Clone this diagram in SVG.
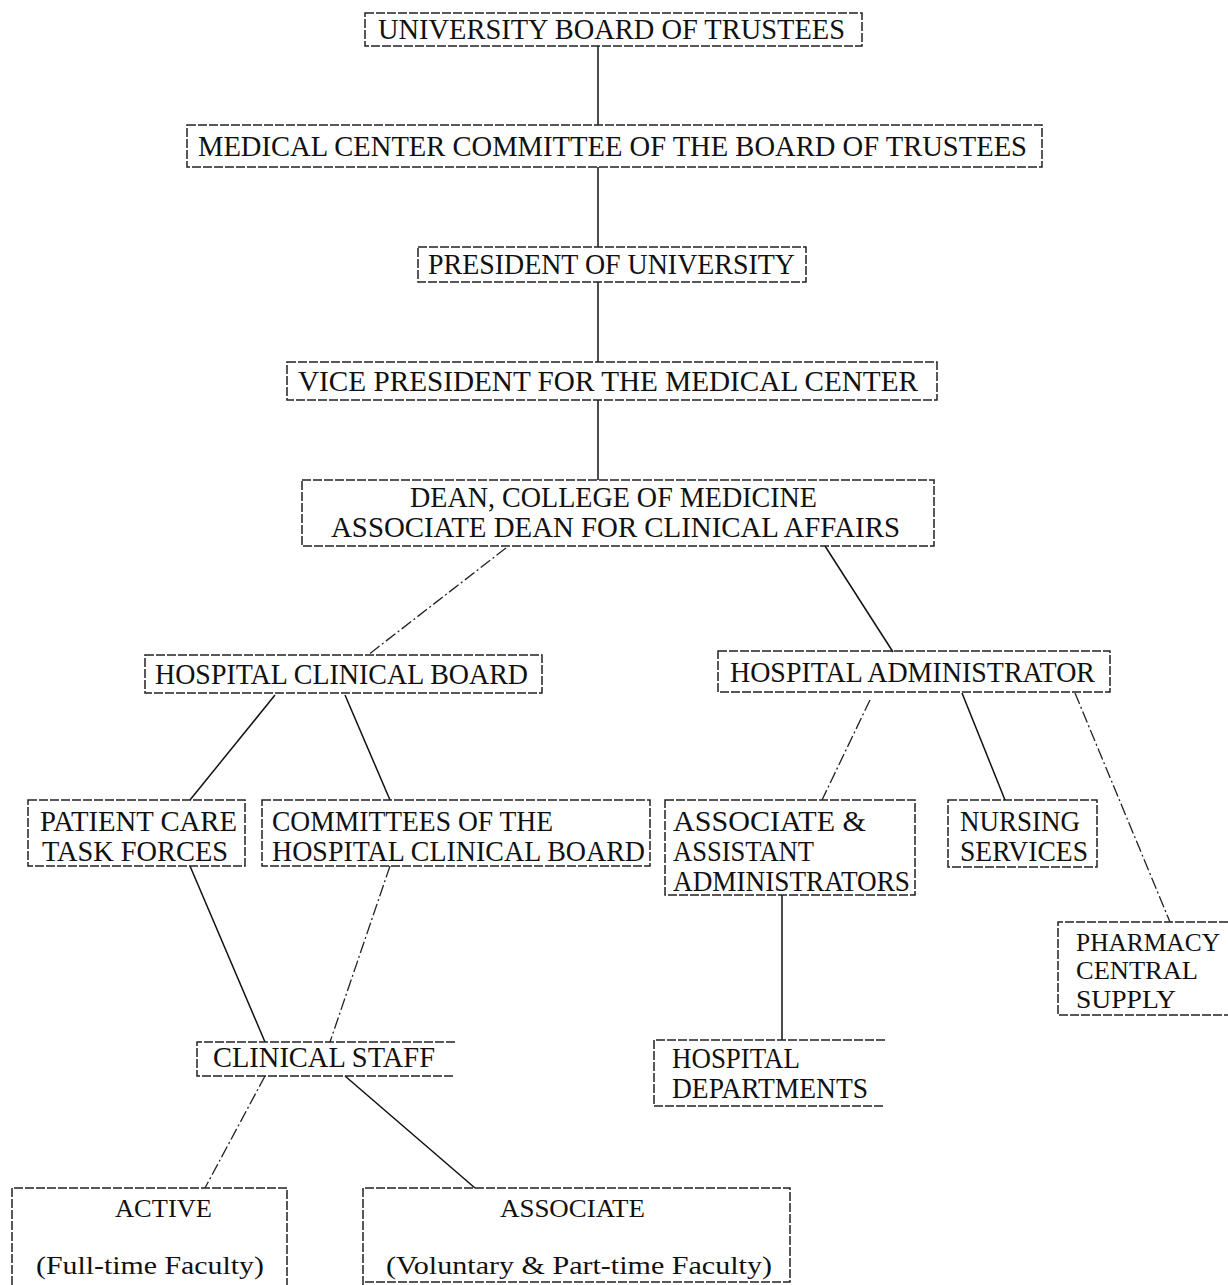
<svg xmlns="http://www.w3.org/2000/svg" width="1228" height="1285" viewBox="0 0 1228 1285">
<style>
.bx{fill:none;stroke:#222;stroke-width:1.5;stroke-dasharray:9 2}
.t{font-family:"Liberation Serif","Times New Roman",serif;font-size:29px;fill:#111}
.s{font-family:"Liberation Serif","Times New Roman",serif;font-size:26px;fill:#111}
.c{stroke:#111;stroke-width:1.5;fill:none}
.d{stroke:#222;stroke-width:1.3;fill:none;stroke-dasharray:12 3 2 3}
</style>
<rect width="1228" height="1285" fill="#fff"/>
<g id="connectors">
<line class="c" x1="598" y1="46" x2="598" y2="125"/>
<line class="c" x1="598" y1="167" x2="598" y2="247"/>
<line class="c" x1="598" y1="282" x2="598" y2="362"/>
<line class="c" x1="598" y1="400" x2="598" y2="480"/>
<line class="d" x1="506" y1="548" x2="368" y2="655"/>
<line class="c" x1="825" y1="546" x2="893" y2="652"/>
<line class="c" x1="275" y1="695" x2="190" y2="800"/>
<line class="c" x1="345" y1="695" x2="390" y2="800"/>
<line class="d" x1="870" y1="700" x2="822" y2="800"/>
<line class="c" x1="962" y1="693" x2="1005" y2="800"/>
<line class="d" x1="1075" y1="693" x2="1170" y2="922"/>
<line class="c" x1="782" y1="895" x2="782" y2="1040"/>
<line class="c" x1="190" y1="866" x2="265" y2="1042"/>
<line class="d" x1="390" y1="866" x2="330" y2="1042"/>
<line class="d" x1="265" y1="1076" x2="205" y2="1188"/>
<line class="c" x1="345" y1="1076" x2="475" y2="1188"/>
</g>
<g id="n1"><rect class="bx" x="365" y="13" width="497" height="33"/><text class="t" x="378" y="39" textLength="467" lengthAdjust="spacingAndGlyphs">UNIVERSITY BOARD OF TRUSTEES</text></g>
<g id="n2"><rect class="bx" x="187" y="125" width="855" height="42"/><text class="t" x="198" y="156" textLength="829" lengthAdjust="spacingAndGlyphs">MEDICAL CENTER COMMITTEE OF THE BOARD OF TRUSTEES</text></g>
<g id="n3"><rect class="bx" x="418" y="247" width="388" height="35"/><text class="t" x="428" y="274" textLength="367" lengthAdjust="spacingAndGlyphs">PRESIDENT OF UNIVERSITY</text></g>
<g id="n4"><rect class="bx" x="287" y="362" width="650" height="38"/><text class="t" x="298" y="391" textLength="620" lengthAdjust="spacingAndGlyphs">VICE PRESIDENT FOR THE MEDICAL CENTER</text></g>
<g id="n5"><rect class="bx" x="302" y="480" width="632" height="66"/><text class="t" x="410" y="507" textLength="407" lengthAdjust="spacingAndGlyphs">DEAN, COLLEGE OF MEDICINE</text><text class="t" x="331" y="537" textLength="569" lengthAdjust="spacingAndGlyphs">ASSOCIATE DEAN FOR CLINICAL AFFAIRS</text></g>
<g id="n6"><rect class="bx" x="145" y="655" width="397" height="38"/><text class="t" x="155" y="684" textLength="373" lengthAdjust="spacingAndGlyphs">HOSPITAL CLINICAL BOARD</text></g>
<g id="n7"><rect class="bx" x="718" y="651" width="392" height="41"/><text class="t" x="730" y="682" textLength="365" lengthAdjust="spacingAndGlyphs">HOSPITAL ADMINISTRATOR</text></g>
<g id="n8"><rect class="bx" x="28" y="800" width="217" height="66"/><text class="t" x="40" y="831" textLength="197" lengthAdjust="spacingAndGlyphs">PATIENT CARE</text><text class="t" x="42" y="861" textLength="186" lengthAdjust="spacingAndGlyphs">TASK FORCES</text></g>
<g id="n9"><rect class="bx" x="262" y="800" width="388" height="66"/><text class="t" x="272" y="831" textLength="281" lengthAdjust="spacingAndGlyphs">COMMITTEES OF THE</text><text class="t" x="272" y="861" textLength="373" lengthAdjust="spacingAndGlyphs">HOSPITAL CLINICAL BOARD</text></g>
<g id="n10"><rect class="bx" x="665" y="800" width="250" height="95"/><text class="t" x="673" y="831" textLength="193" lengthAdjust="spacingAndGlyphs">ASSOCIATE &amp;</text><text class="t" x="673" y="861" textLength="141" lengthAdjust="spacingAndGlyphs">ASSISTANT</text><text class="t" x="673" y="891" textLength="237" lengthAdjust="spacingAndGlyphs">ADMINISTRATORS</text></g>
<g id="n11"><rect class="bx" x="948" y="800" width="149" height="67"/><text class="t" x="960" y="831" textLength="120" lengthAdjust="spacingAndGlyphs">NURSING</text><text class="t" x="960" y="861" textLength="128" lengthAdjust="spacingAndGlyphs">SERVICES</text></g>
<g id="n12"><path class="bx" d="M1228 922H1058V1015H1228"/><text class="s" x="1076" y="951" textLength="144" lengthAdjust="spacingAndGlyphs">PHARMACY</text><text class="s" x="1076" y="979" textLength="122" lengthAdjust="spacingAndGlyphs">CENTRAL</text><text class="s" x="1076" y="1008" textLength="100" lengthAdjust="spacingAndGlyphs">SUPPLY</text></g>
<g id="n13"><path class="bx" d="M885 1040H654V1106H885"/><text class="t" x="672" y="1068" textLength="128" lengthAdjust="spacingAndGlyphs">HOSPITAL</text><text class="t" x="672" y="1098" textLength="196" lengthAdjust="spacingAndGlyphs">DEPARTMENTS</text></g>
<g id="n14"><path class="bx" d="M455 1042H197V1076H455"/><text class="t" x="213" y="1067" textLength="222" lengthAdjust="spacingAndGlyphs">CLINICAL STAFF</text></g>
<g id="n15"><path class="bx" d="M12 1285V1188H287V1285"/><text class="s" x="115" y="1217" textLength="97" lengthAdjust="spacingAndGlyphs">ACTIVE</text><text class="s" x="36" y="1274" textLength="228" lengthAdjust="spacingAndGlyphs">(Full-time Faculty)</text></g>
<g id="n16"><path class="bx" d="M363 1285V1188H790V1282H363"/><text class="s" x="500" y="1217" textLength="145" lengthAdjust="spacingAndGlyphs">ASSOCIATE</text><text class="s" x="386" y="1274" textLength="386" lengthAdjust="spacingAndGlyphs">(Voluntary &amp; Part-time Faculty)</text></g>
</svg>
